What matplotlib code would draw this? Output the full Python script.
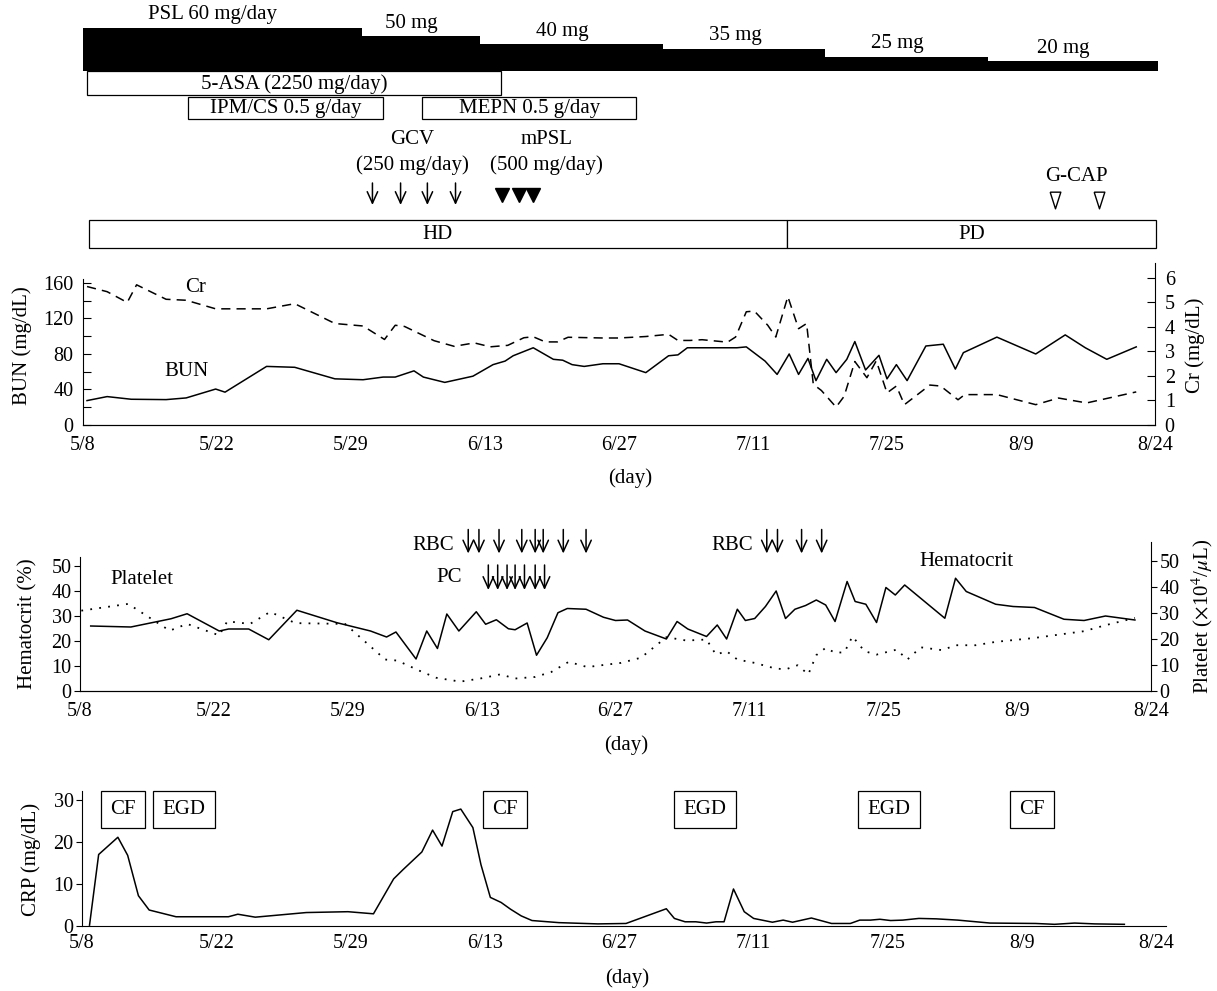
import matplotlib
matplotlib.use("Agg")
import matplotlib.pyplot as plt

plt.rcParams["font.family"] = ["Liberation Serif", "DejaVu Serif"]
plt.rcParams["mathtext.fontset"] = "stix"
plt.rcParams["font.size"] = 15

W, H = 1217, 991

# x positions are in "label units": one unit between neighbouring date labels
DATE_LABELS = ["5/8", "5/22", "5/29", "6/13", "6/27", "7/11", "7/25", "8/9", "8/24"]

# treatment timeline
psl_doses = [60, 50, 40, 35, 25, 20]
psl_labels = ["PSL 60 mg/day", "50 mg", "40 mg", "35 mg", "25 mg", "20 mg"]
psl_start = [0.0, 2.08, 2.96, 4.33, 5.54, 6.75]
psl_stop = [2.08, 2.96, 4.33, 5.54, 6.75, 8.02]
drug_names = ["5-ASA (2250 mg/day)", "IPM/CS 0.5 g/day", "MEPN 0.5 g/day"]
drug_start = [0.03, 0.78, 2.53]
drug_stop = [3.12, 2.24, 4.13]
drug_row = [0, 1, 1]
gcv_days = [2.16, 2.37, 2.57, 2.78]
mpsl_days = [3.13, 3.25, 3.36]
gcap_days = [7.25, 7.58]
dialysis_names = ["HD", "PD"]
dialysis_bounds = [0.045, 5.25, 8.01]

# BUN / Cr
bun_t = [0.03, 0.18, 0.36, 0.62, 0.77, 0.99, 1.06, 1.37, 1.58, 1.88, 2.09, 2.24, 2.33,
         2.47, 2.54, 2.70, 2.91, 3.06, 3.15, 3.21, 3.36, 3.51, 3.58, 3.65, 3.74, 3.88,
         4.00, 4.20, 4.37, 4.44, 4.51, 4.88, 4.95, 5.09, 5.18, 5.27, 5.34, 5.41, 5.47,
         5.55, 5.62, 5.70, 5.76, 5.84, 5.94, 6.00, 6.07, 6.15, 6.29, 6.42, 6.51, 6.57,
         6.82, 7.11, 7.33, 7.48, 7.64, 7.86]
bun = [27.5, 32, 29, 28.6, 30.5, 40.5, 37, 66, 65, 52, 51, 54, 54,
       61, 54, 48, 55, 68, 72, 78, 87, 74, 73, 68, 66, 69,
       69, 59, 78, 79, 87, 87, 88, 72, 57, 80, 57, 75, 50,
       74, 59, 74, 94, 62, 78.5, 52, 68, 50, 89, 91, 63, 81.5,
       99, 80, 101.5, 87, 74, 88]
cr_t = [0.03, 0.18, 0.33, 0.40, 0.62, 0.77, 0.99, 1.37, 1.58, 1.88, 2.09, 2.25, 2.33,
        2.40, 2.62, 2.77, 2.92, 3.04, 3.17, 3.29, 3.36, 3.45, 3.54, 3.62, 3.88, 4.00,
        4.20, 4.37, 4.44, 4.53, 4.62, 4.81, 4.87, 4.95, 5.01, 5.11, 5.17, 5.26, 5.34,
        5.40, 5.45, 5.51, 5.62, 5.68, 5.76, 5.85, 5.92, 6.00, 6.07, 6.13, 6.32, 6.40,
        6.53, 6.58, 6.82, 7.11, 7.28, 7.49, 7.86]
cr = [5.65, 5.44, 5.0, 5.72, 5.13, 5.09, 4.74, 4.74, 4.95, 4.14, 4.04, 3.49, 4.07,
      4.02, 3.44, 3.21, 3.35, 3.19, 3.25, 3.56, 3.60, 3.39, 3.39, 3.58, 3.55, 3.55,
      3.61, 3.70, 3.45, 3.45, 3.48, 3.38, 3.59, 4.62, 4.65, 4.07, 3.59, 5.24, 3.93,
      4.14, 1.66, 1.41, 0.73, 1.17, 2.59, 1.93, 2.62, 1.31, 1.59, 0.83, 1.63, 1.59,
      1.03, 1.24, 1.24, 0.83, 1.10, 0.90, 1.35]

# Hematocrit / platelet
hct_t = [0.08, 0.38, 0.68, 0.80, 1.04, 1.11, 1.26, 1.41, 1.62, 1.92, 2.17, 2.29, 2.36,
         2.51, 2.59, 2.67, 2.74, 2.83, 2.96, 3.03, 3.11, 3.20, 3.25, 3.34, 3.41, 3.49,
         3.57, 3.64, 3.78, 3.91, 4.00, 4.09, 4.22, 4.38, 4.46, 4.54, 4.68, 4.76, 4.83,
         4.91, 4.97, 5.04, 5.12, 5.20, 5.27, 5.34, 5.42, 5.50, 5.57, 5.64, 5.73, 5.79,
         5.87, 5.95, 6.02, 6.09, 6.16, 6.46, 6.54, 6.62, 6.84, 6.97, 7.13, 7.35, 7.50,
         7.66, 7.88]
hct = [26, 25.6, 28.9, 30.9, 24, 24.8, 24.8, 20.5, 32.3, 27.3, 24, 21.6, 23.6,
       12.8, 24, 17, 30.8, 24, 31.7, 26.7, 28.5, 24.9, 24.5, 27.2, 14.3, 21.3,
       31.3, 33, 32.7, 29.5, 28.2, 28.4, 24, 20.8, 27.8, 24.8, 21.8, 26.4, 20.8,
       32.7, 28.2, 29, 33.8, 40, 29, 32.7, 34.2, 36.4, 34.4, 27.8, 43.8, 35.8,
       34.7, 27.4, 41.4, 38.4, 42.4, 29.1, 45.1, 39.8, 34.7, 33.8, 33.4, 28.7, 28.2,
       30, 28.4]
plt_t = [0.01, 0.36, 0.67, 0.80, 1.04, 1.10, 1.27, 1.42, 1.61, 1.98, 2.28, 2.37, 2.54,
         2.66, 2.84, 2.99, 3.14, 3.25, 3.40, 3.52, 3.65, 3.79, 3.91, 4.04, 4.19, 4.38,
         4.53, 4.68, 4.75, 4.83, 4.91, 5.04, 5.19, 5.27, 5.36, 5.44, 5.50, 5.57, 5.64,
         5.71, 5.77, 5.86, 5.95, 6.10, 6.18, 6.28, 6.44, 6.54, 6.69, 6.84, 7.13, 7.50,
         7.66, 7.88]
platelet = [30.9, 33.5, 23.2, 25.8, 21.4, 26.8, 25.8, 30.4, 26.1, 25.8, 12.1, 11.7, 7.7,
            5.1, 3.6, 4.8, 6.4, 4.8, 5.4, 7.3, 11.2, 9.2, 10, 10.8, 12.8, 20.7,
            19.4, 19.8, 14, 15.3, 12.1, 10.8, 8.7, 8.3, 9.9, 6.4, 13.8, 16.6, 14.7,
            14.9, 21, 15.3, 14, 15.9, 12.1, 16.8, 15.7, 17.6, 17.6, 18.9, 20.4, 23,
            25.3, 28.1]
rbc_days = [2.90, 2.98, 3.13, 3.30, 3.40, 3.46, 3.61, 3.78, 5.13, 5.21, 5.39, 5.54]
pc_days = [3.05, 3.12, 3.19, 3.25, 3.32, 3.40, 3.47]

# CRP
crp_t = [0.056, 0.124, 0.267, 0.34, 0.42, 0.50, 0.70, 1.09, 1.16, 1.29, 1.67, 1.98, 2.17,
         2.32, 2.39, 2.53, 2.61, 2.68, 2.76, 2.82, 2.91, 2.97, 3.04, 3.12, 3.19, 3.27,
         3.35, 3.55, 3.84, 4.05, 4.35, 4.41, 4.49, 4.57, 4.65, 4.72, 4.78, 4.85, 4.93,
         5.00, 5.14, 5.22, 5.29, 5.43, 5.58, 5.72, 5.79, 5.87, 5.94, 6.02, 6.11, 6.23,
         6.36, 6.52, 6.76, 7.10, 7.24, 7.39, 7.54, 7.76]
crp = [0.2, 17, 21.1, 16.8, 7.2, 3.8, 2.2, 2.2, 2.8, 2.1, 3.2, 3.4, 2.9,
       11.2, 13.4, 17.6, 22.8, 19, 27.2, 27.8, 23.4, 14.6, 6.8, 5.6, 4.0, 2.4,
       1.3, 0.8, 0.5, 0.6, 4.1, 1.8, 1.0, 1.0, 0.7, 1.0, 1.0, 8.8, 3.4,
       1.8, 0.9, 1.4, 0.9, 1.9, 0.6, 0.6, 1.4, 1.4, 1.6, 1.3, 1.4, 1.8,
       1.7, 1.4, 0.7, 0.6, 0.4, 0.7, 0.5, 0.4]
exam_names = ["CF", "EGD", "CF", "EGD", "EGD", "CF"]
exam_days = [0.305, 0.76, 3.15, 4.64, 6.01, 7.07]

TICK_SIZE = 14.5
ARROW = dict(arrowstyle="->,head_length=0.55,head_width=0.25", lw=1.1, color="black",
             shrinkA=0, shrinkB=0)


def px_axes(fig, left, top, right, bottom):
    return fig.add_axes([left / W, 1 - bottom / H, (right - left) / W, (bottom - top) / H])


def down_arrow(ax, x, y_top, y_bottom):
    ax.annotate("", xy=(x, y_bottom), xytext=(x, y_top), arrowprops=ARROW,
                annotation_clip=False)


fig = plt.figure(figsize=(W / 100, H / 100), dpi=100)

# ---- treatment timeline (y in pixel rows) ----
ax0 = px_axes(fig, 83, 0, 1155, 250)
ax0.set_xlim(0, 8)
ax0.set_ylim(250, 0)
ax0.axis("off")

base = 71
for dose, lab, s, e in zip(psl_doses, psl_labels, psl_start, psl_stop):
    h = (dose - 8) * 0.83
    ax0.bar(s, h, width=e - s, bottom=base - h, align="edge", color="black", lw=0,
            clip_on=False)
    ax0.text((s + e) / 2 - 0.07, base - h - 13, lab, ha="center", va="center")

row_top = [71, 97]
row_h = [24, 22]
for name, s, e, r in zip(drug_names, drug_start, drug_stop, drug_row):
    ax0.bar(s, row_h[r], width=e - s, bottom=row_top[r], align="edge",
            facecolor="white", edgecolor="black", lw=0.9, clip_on=False)
    ax0.text((s + e) / 2, row_top[r] + row_h[r] / 2 + 1, name, ha="center", va="center")

ax0.text(2.46, 140, "GCV", ha="center", va="center")
ax0.text(2.46, 165, "(250 mg/day)", ha="center", va="center")
for d in gcv_days:
    down_arrow(ax0, d, 183, 205)
ax0.text(3.46, 140, "mPSL", ha="center", va="center")
ax0.text(3.46, 165, "(500 mg/day)", ha="center", va="center")
ax0.plot(mpsl_days, [195] * len(mpsl_days), ls="none", marker="v", ms=9.5, color="black")
ax0.text(7.41, 177, "G-CAP", ha="center", va="center")
ax0.plot(gcap_days, [200] * len(gcap_days), ls="none", ms=12, mfc="white", mec="black", mew=1,
         marker=[(-0.32, 0.5), (0.32, 0.5), (0, -0.5), (-0.32, 0.5)])

for i, name in enumerate(dialysis_names):
    s, e = dialysis_bounds[i], dialysis_bounds[i + 1]
    ax0.bar(s, 28, width=e - s, bottom=220, align="edge",
            facecolor="white", edgecolor="black", lw=0.9, clip_on=False)
    ax0.text((s + e) / 2, 235, name, ha="center", va="center")

# ---- BUN / Cr ----
ax1 = px_axes(fig, 83, 263, 1155, 425)
ax1.plot(bun_t, bun, color="black", lw=1.1)
ax1.set_xlim(0, 8)
ax1.set_ylim(0, 182.5)
ax1.spines["left"].set_bounds(0, 164.5)
ax1.set_yticks(range(0, 161, 20))
ax1.set_yticklabels([str(v) if v % 40 == 0 else "" for v in range(0, 161, 20)])
ax1.set_ylabel("BUN (mg/dL)", va="center")
ax1.yaxis.set_label_coords(-0.057, 0.49)
ax1r = ax1.twinx()
ax1r.plot(cr_t, cr, color="black", lw=1.1, ls=(0, (6, 4)))
ax1r.set_ylim(0, 6.61)
ax1r.set_yticks(range(0, 7))
ax1r.set_ylabel("Cr (mg/dL)", va="center")
ax1r.yaxis.set_label_coords(1.037, 0.49)
ax1.text(0.84, 155, "Cr", ha="center", va="center")
ax1.text(0.77, 60, "BUN", ha="center", va="center")
for a in (ax1, ax1r):
    a.spines["top"].set_visible(False)
    a.tick_params(axis="y", direction="in", length=6, pad=7, labelsize=TICK_SIZE)
ax1.spines["right"].set_visible(False)
ax1r.spines["left"].set_visible(False)
ax1.set_xticks(range(len(DATE_LABELS)))
ax1.set_xticklabels(DATE_LABELS)
ax1.tick_params(axis="x", length=0, pad=8, labelsize=TICK_SIZE)
ax1.set_xlabel("(day)", va="center")
ax1.xaxis.set_label_coords(0.51, -0.327)

# ---- Hematocrit / platelet ----
ax2 = px_axes(fig, 80, 542, 1151, 691)
ax2.plot(hct_t, hct, color="black", lw=1.1)
ax2.set_xlim(0, 8)
ax2.set_ylim(0, 59.6)
ax2.spines["left"].set_bounds(0, 53.6)
ax2.set_yticks(range(0, 51, 10))
ax2.set_ylabel("Hematocrit (%)", va="center")
ax2.yaxis.set_label_coords(-0.049, 0.45)
ax2r = ax2.twinx()
ax2r.plot(plt_t, platelet, color="black", lw=1.3, ls=(0, (1, 4)))
ax2r.set_ylim(0, 57.3)
ax2r.set_yticks(range(0, 51, 10))
ax2r.set_ylabel(r"Platelet ($\times$10$^4$/$\mu$L)", va="center")
ax2r.yaxis.set_label_coords(1.048, 0.5)
for a in (ax2, ax2r):
    a.spines["top"].set_visible(False)
    a.tick_params(axis="y", direction="out", length=4, pad=2, labelsize=TICK_SIZE)
ax2.spines["right"].set_visible(False)
ax2r.spines["left"].set_visible(False)
ax2.set_xticks(range(len(DATE_LABELS)))
ax2.set_xticklabels(DATE_LABELS)
ax2.tick_params(axis="x", length=0, pad=8, labelsize=TICK_SIZE)
ax2.set_xlabel("(day)", va="center")
ax2.xaxis.set_label_coords(0.51, -0.362)

ax2.text(2.79, 58.4, "RBC", ha="right", va="center")
ax2.text(2.76, 45.2, "PC", ha="center", va="center")
ax2.text(4.87, 58.4, "RBC", ha="center", va="center")
for d in rbc_days:
    down_arrow(ax2, d, 64.6, 55.0)
for d in pc_days:
    down_arrow(ax2, d, 50.4, 40.4)
ax2.text(0.46, 44.8, "Platelet", ha="center", va="center")
ax2.text(6.62, 52, "Hematocrit", ha="center", va="center")

# ---- CRP ----
ax3 = px_axes(fig, 82, 791, 1166, 926)
ax3.plot(crp_t, crp, color="black", lw=1.1)
ax3.set_xlim(0, 8.07)
ax3.set_ylim(0, 32.1)
ax3.set_yticks([0, 10, 20, 30])
ax3.set_ylabel("CRP (mg/dL)", va="center")
ax3.yaxis.set_label_coords(-0.047, 0.49)
ax3.spines["top"].set_visible(False)
ax3.spines["right"].set_visible(False)
ax3.tick_params(axis="y", direction="out", length=4, pad=2, labelsize=TICK_SIZE)
ax3.set_xticks(range(len(DATE_LABELS)))
ax3.set_xticklabels(DATE_LABELS)
ax3.tick_params(axis="x", length=0, pad=6, labelsize=TICK_SIZE)
ax3.set_xlabel("(day)", va="center")
ax3.xaxis.set_label_coords(0.503, -0.385)
for name, d in zip(exam_names, exam_days):
    ax3.text(d, 27.7, name, ha="center", va="center",
             bbox=dict(boxstyle="square,pad=0.45", facecolor="white", edgecolor="black", lw=0.9))

fig.savefig("out.png", dpi=100)
